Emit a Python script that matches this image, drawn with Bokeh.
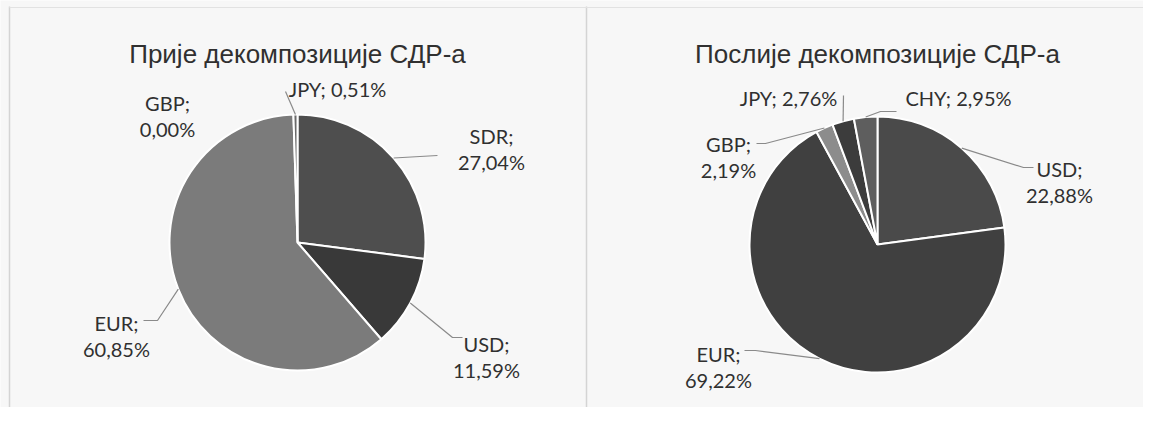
import math
from bokeh.plotting import figure
from bokeh.models import ColumnDataSource
from bokeh.core.properties import value
from bokeh.embed import file_html
from bokeh.resources import INLINE

# ---------------- data ----------------
before_title = "Прије декомпозиције СДР-а"
before_names = ["SDR", "USD", "EUR", "GBP", "JPY"]
before_values = [27.04, 11.59, 60.85, 0.00, 0.51]

after_title = "Послије декомпозиције СДР-а"
after_names = ["USD", "EUR", "GBP", "JPY", "CHY"]
after_values = [22.88, 69.22, 2.19, 2.76, 2.95]

# ---------------- styles / layout ----------------
before_colors = ["#4e4e4e", "#393939", "#7b7b7b", "#8a8a8a", "#6a6a6a"]
after_colors = ["#4a4a4a", "#404040", "#8c8c8c", "#3c3c3c", "#5e5e5e"]
TEXT_COLOR = "#303030"
LEADER_COLOR = "#8a8a8a"
BG = "#f7f7f7"

W, H = 1143, 407
OFF = 0  # page offset of the figure


def X(px):
    return px - OFF


def Y(py):
    return H - (py - OFF)


R = 128
LINE_GAP = 26

# label layout (image-pixel coords): centre x, first baseline, two lines?, leader path after the slice edge
before_layout = {
    "SDR": (491, 135, True, [(437, 155)]),
    "USD": (486, 343, True, [(452, 337), (462, 337)]),
    "EUR": (116, 322, True, [(157, 320), (143, 320)]),
    "GBP": (167, 102, True, []),
    "JPY": (337, 88, False, [(285, 91)]),
}
after_layout = {
    "USD": (1059, 168, True, [(1023, 167), (1033, 167)]),
    "EUR": (718, 353, True, [(755, 350), (744, 350)]),
    "GBP": (728, 143, True, [(765, 143), (756, 143)]),
    "JPY": (788, 97, False, [(843, 95)]),
    "CHY": (958, 97, False, [(880, 111), (896, 111)]),
}

panels = [
    dict(title=before_title, names=before_names, values=before_values,
         colors=before_colors, layout=before_layout, cx=297, cy=242, tx=297),
    dict(title=after_title, names=after_names, values=after_values,
         colors=after_colors, layout=after_layout, cx=877, cy=244, tx=877),
]

p = figure(width=W, height=H, x_range=(0, W), y_range=(0, H),
           output_backend="svg", toolbar_location=None,
           x_axis_location=None, y_axis_location=None, min_border=0)
p.grid.visible = False
p.outline_line_color = None
p.background_fill_color = BG
p.border_fill_color = BG

# panel frame lines
p.segment(x0=[X(9), X(586)], y0=[Y(6), Y(6)], x1=[X(9), X(586)], y1=[Y(430), Y(430)],
          line_color="#d4d4d4", line_width=1.5)
p.segment(x0=[X(9)], y0=[Y(7)], x1=[X(1159)], y1=[Y(7)], line_color="#e2e2e2", line_width=1)


def fmt(v):
    return ("%.2f" % v).replace(".", ",") + "%"


for pan in panels:
    total = sum(pan["values"])
    cum = 0.0
    ws = dict(x=[], y=[], start=[], end=[], color=[])
    tx, ty = [], []
    lxs, lys = [], []
    for name, v, c in zip(pan["names"], pan["values"], pan["colors"]):
        t0 = cum / total * 360.0
        cum += v
        t1 = cum / total * 360.0
        if v > 0:
            ws["x"].append(X(pan["cx"]))
            ws["y"].append(Y(pan["cy"]))
            ws["start"].append(math.radians(90 - t0))
            ws["end"].append(math.radians(90 - t1))
            ws["color"].append(c)
        mid = math.radians((t0 + t1) / 2)
        ex = pan["cx"] + R * math.sin(mid)
        ey = pan["cy"] - R * math.cos(mid)
        lx, base, two, path = pan["layout"][name]
        if two:
            tx += [X(lx), X(lx)]
            ty += [Y(base), Y(base + LINE_GAP)]
            texts = [name + ";", fmt(v)]
        else:
            tx += [X(lx)]
            ty += [Y(base)]
            texts = [name + "; " + fmt(v)]
        pan.setdefault("texts", []).extend(texts)
        if path:
            pts = [(ex, ey)] + path
            lxs.append([X(a) for a, b in pts])
            lys.append([Y(b) for a, b in pts])
    p.wedge(x="x", y="y", radius=R, radius_units="screen", start_angle="start",
            end_angle="end", direction="clock", fill_color="color",
            line_color="white", line_width=2, source=ColumnDataSource(ws))
    p.multi_line(xs=lxs, ys=lys, line_color=LEADER_COLOR, line_width=1.2)
    p.text(x=tx, y=ty, text=pan["texts"], text_font=value("Lato"),
           text_font_size="20px", text_color=TEXT_COLOR, text_align="center",
           text_baseline="alphabetic")
    p.text(x=[X(pan["tx"])], y=[Y(53)], text=[pan["title"]],
           text_font=value("Liberation Sans"), text_font_size="26px",
           text_color=TEXT_COLOR, text_align="center", text_baseline="alphabetic")

open("out.html", "w").write(file_html(p, INLINE))
